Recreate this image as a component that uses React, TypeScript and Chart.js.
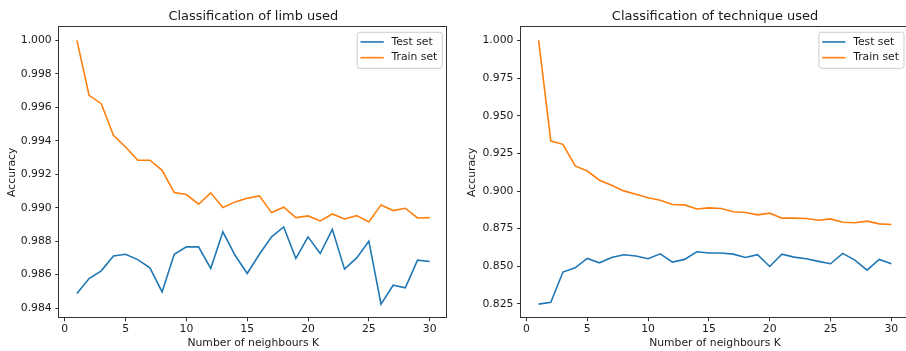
import React, { useEffect, useRef } from 'react';
import { Chart, registerables } from 'chart.js';

Chart.register(...registerables);

// ---------- data ----------
const neighboursK = [1, 2, 3, 4, 5, 6, 7, 8, 9, 10, 11, 12, 13, 14, 15, 16, 17, 18, 19, 20, 21, 22, 23, 24, 25, 26, 27, 28, 29, 30];

const limbTest = [0.98488, 0.98577, 0.98623, 0.98712, 0.98722, 0.9869, 0.98641, 0.98497, 0.98722, 0.98766, 0.98766, 0.98637, 0.98856, 0.98716, 0.98607, 0.98722, 0.98826, 0.98885, 0.98697, 0.98826, 0.98726, 0.98871, 0.98633, 0.987, 0.988, 0.98424, 0.98537, 0.98521, 0.98687, 0.98679];
const limbTrain = [1.0, 0.99672, 0.99622, 0.99433, 0.99363, 0.99284, 0.99284, 0.99224, 0.99091, 0.99079, 0.99021, 0.99089, 0.99001, 0.99035, 0.99057, 0.99071, 0.98971, 0.99003, 0.98941, 0.98951, 0.98921, 0.98963, 0.98933, 0.98953, 0.98915, 0.99017, 0.98983, 0.98997, 0.98939, 0.98941];

const techTest = [0.8249, 0.8261, 0.8462, 0.849, 0.8552, 0.8523, 0.8559, 0.8577, 0.8568, 0.855, 0.8583, 0.8528, 0.8546, 0.8597, 0.8588, 0.8588, 0.8581, 0.8559, 0.8577, 0.8499, 0.8581, 0.8561, 0.855, 0.8533, 0.8517, 0.8586, 0.8541, 0.8475, 0.8546, 0.8517];
const techTrain = [1.0, 0.9332, 0.931, 0.9167, 0.9133, 0.9072, 0.9038, 0.9001, 0.8979, 0.8955, 0.8939, 0.891, 0.8908, 0.8881, 0.8888, 0.8884, 0.8862, 0.8857, 0.8842, 0.8853, 0.882, 0.882, 0.8818, 0.8806, 0.8815, 0.8793, 0.8789, 0.88, 0.8782, 0.8778];

const xTicks = [0, 5, 10, 15, 20, 25, 30];
const limbYTicks = [0.984, 0.986, 0.988, 0.99, 0.992, 0.994, 0.996, 0.998, 1.0];
const techYTicks = [0.825, 0.85, 0.875, 0.9, 0.925, 0.95, 0.975, 1.0];

const seriesLabels = ['Test set', 'Train set'];
const seriesColors = ['#1f77b4', '#ff7f0e'];

const FONT = '"DejaVu Sans", "Liberation Sans", sans-serif';
const SMALL = 10.8;
const TITLE = 12.96;
const TEXT = '#1a1a1a';
const AXIS = '#333333';

const CANVAS_H = 351;
const PLOT_TOP_PAD = { top: 8.4, bottom: 3.3 };
const PLOT_BOTTOM = 317.3;

const frameLegendPlugin = {
  id: 'frameLegend',
  afterDatasetsDraw(chart: any) {
    const { ctx, chartArea: a } = chart;
    ctx.save();
    // spines
    ctx.strokeStyle = AXIS;
    ctx.lineWidth = 1;
    const l = Math.round(a.left) - 0.5;
    const t = Math.round(a.top) - 0.5;
    const r = Math.round(a.right) - 0.5;
    const b = Math.round(a.bottom) + 0.5;
    ctx.strokeRect(l, t, r - l, b - t);

    // legend (upper right, matplotlib style)
    ctx.font = `${SMALL}px ${FONT}`;
    const labels = chart.data.datasets.map((d: any) => d.label);
    const textW = Math.max(...labels.map((s: string) => ctx.measureText(s).width));
    const w = 34.3 + textW + 5;
    const h = 36;
    const x = a.right - 5 - w;
    const y = a.top + 5;
    const rad = 2.5;
    ctx.beginPath();
    ctx.moveTo(x + rad, y);
    ctx.lineTo(x + w - rad, y);
    ctx.arcTo(x + w, y, x + w, y + rad, rad);
    ctx.lineTo(x + w, y + h - rad);
    ctx.arcTo(x + w, y + h, x + w - rad, y + h, rad);
    ctx.lineTo(x + rad, y + h);
    ctx.arcTo(x, y + h, x, y + h - rad, rad);
    ctx.lineTo(x, y + rad);
    ctx.arcTo(x, y, x + rad, y, rad);
    ctx.closePath();
    ctx.fillStyle = 'rgba(255,255,255,0.8)';
    ctx.fill();
    ctx.strokeStyle = '#cccccc';
    ctx.lineWidth = 1;
    ctx.stroke();

    chart.data.datasets.forEach((d: any, i: number) => {
      const ry = y + 9.7 + i * 15.7;
      ctx.strokeStyle = d.borderColor;
      ctx.lineWidth = 1.6;
      ctx.beginPath();
      ctx.moveTo(x + 3.3, ry);
      ctx.lineTo(x + 26.6, ry);
      ctx.stroke();
      ctx.fillStyle = TEXT;
      ctx.textBaseline = 'middle';
      ctx.textAlign = 'left';
      ctx.fillText(d.label, x + 34.3, ry);
    });
    ctx.restore();
  },
};

function makeConfig(
  title: string,
  test: number[],
  train: number[],
  yTicks: number[],
  yWidth: number,
  rightPad: number
): any {
  const all = [...test, ...train];
  const yMinD = Math.min(...all);
  const yMaxD = Math.max(...all);
  const yM = (yMaxD - yMinD) * 0.05;
  const xMinD = Math.min(...neighboursK);
  const xMaxD = Math.max(...neighboursK);
  const xM = (xMaxD - xMinD) * 0.05;
  const series = [test, train];
  return {
    type: 'line',
    data: {
      datasets: series.map((vals, i) => ({
        label: seriesLabels[i],
        data: neighboursK.map((k, j) => ({ x: k, y: vals[j] })),
        borderColor: seriesColors[i],
        backgroundColor: seriesColors[i],
        borderWidth: 1.6,
        pointRadius: 0,
        tension: 0,
        fill: false,
      })),
    },
    options: {
      responsive: false,
      animation: false,
      devicePixelRatio: 1,
      layout: { padding: { left: 0, right: rightPad, top: 0, bottom: 0 } },
      plugins: {
        legend: { display: false },
        tooltip: { enabled: false },
        title: {
          display: true,
          text: title,
          fullSize: false,
          color: TEXT,
          font: { family: FONT, size: TITLE, weight: 'normal' },
          padding: PLOT_TOP_PAD,
        },
      },
      scales: {
        x: {
          type: 'linear',
          min: xMinD - xM,
          max: xMaxD + xM,
          afterBuildTicks: (s: any) => {
            s.ticks = xTicks.map((v) => ({ value: v }));
          },
          afterFit: (s: any) => {
            s.height = CANVAS_H - PLOT_BOTTOM;
          },
          border: { display: false },
          grid: { drawOnChartArea: false, drawTicks: true, tickLength: 4, color: AXIS, lineWidth: 1 },
          ticks: {
            color: TEXT,
            font: { family: FONT, size: SMALL },
            padding: 1.7,
            maxRotation: 0,
            autoSkip: false,
            callback: (v: any) => String(v),
          },
          title: {
            display: true,
            text: 'Number of neighbours K',
            color: TEXT,
            font: { family: FONT, size: SMALL },
            padding: { top: 0, bottom: 1.3 },
          },
        },
        y: {
          type: 'linear',
          min: yMinD - yM,
          max: yMaxD + yM,
          afterBuildTicks: (s: any) => {
            s.ticks = yTicks.map((v) => ({ value: v }));
          },
          afterFit: (s: any) => {
            s.width = yWidth;
          },
          border: { display: false },
          grid: { drawOnChartArea: false, drawTicks: true, tickLength: 4, color: AXIS, lineWidth: 1 },
          ticks: {
            color: TEXT,
            font: { family: FONT, size: SMALL },
            padding: 3.6,
            autoSkip: false,
            callback: (v: any) => Number(v).toFixed(3),
          },
          title: {
            display: true,
            text: 'Accuracy',
            color: TEXT,
            font: { family: FONT, size: SMALL },
            padding: { top: 5.5, bottom: 0 },
          },
        },
      },
    },
    plugins: [frameLegendPlugin],
  };
}

function ChartCanvas(props: { config: any; left: number; width: number }) {
  const ref = useRef<HTMLCanvasElement | null>(null);
  useEffect(() => {
    if (!ref.current) return;
    const chart = new Chart(ref.current, props.config);
    return () => chart.destroy();
  }, []);
  return (
    <canvas
      ref={ref}
      width={props.width}
      height={CANVAS_H}
      style={{ position: 'absolute', left: props.left, top: 0, width: props.width, height: CANVAS_H }}
    />
  );
}

export default function App() {
  const limbConfig = makeConfig('Classification of limb used', limbTest, limbTrain, limbYTicks, 59.3, 455 - 447.3);
  const techConfig = makeConfig('Classification of technique used', techTest, techTrain, techYTicks, 61, 5);
  return (
    <div
      style={{
        position: 'fixed',
        left: 0,
        top: 0,
        width: 906,
        height: CANVAS_H,
        overflow: 'hidden',
        background: '#ffffff',
      }}
    >
      <ChartCanvas config={limbConfig} left={0} width={455} />
      <ChartCanvas config={techConfig} left={460} width={454} />
    </div>
  );
}
